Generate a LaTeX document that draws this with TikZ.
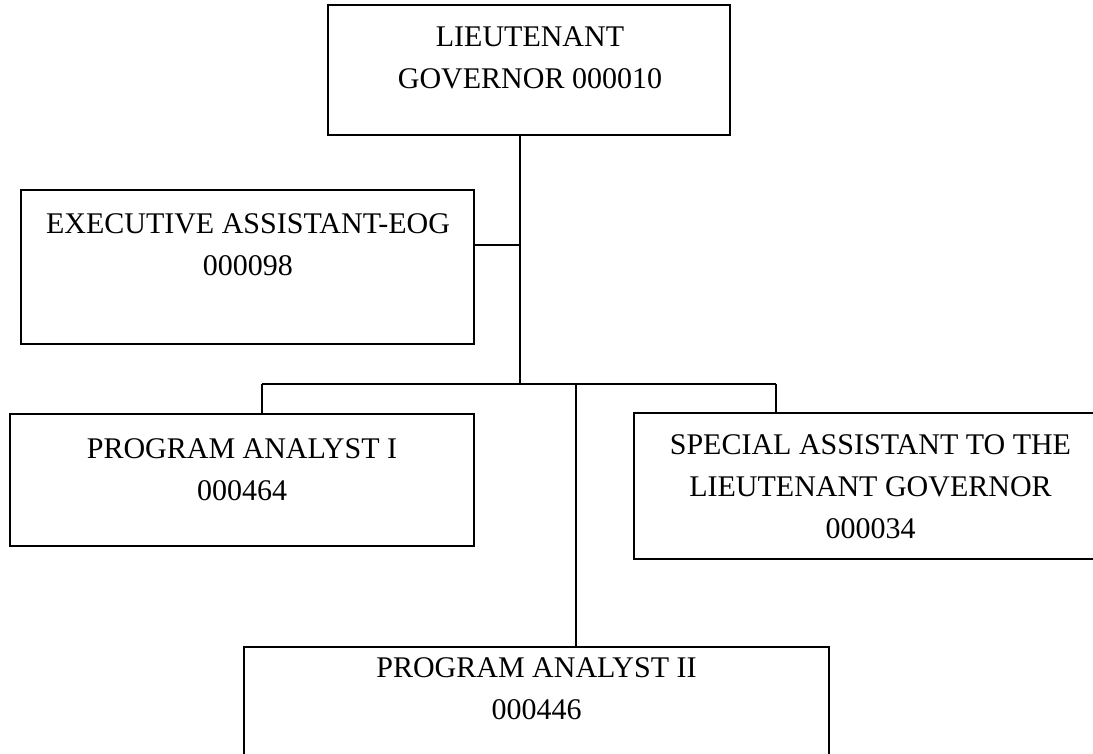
\documentclass[tikz,border=0pt]{standalone}
\usepackage{fontspec}
\setmainfont{Liberation Serif}
\tikzset{
  box/.style={draw, line width=1.8pt, rectangle, inner sep=0pt},
  caption/.style={anchor=north, align=center, inner sep=0pt,
    font=\fontsize{30}{42}\selectfont},
  link/.style={line width=1.8pt},
}
\begin{document}
\begin{tikzpicture}[x=1pt,y=-1pt]
\useasboundingbox (0,0) rectangle (1093,754);
\clip (0,0) rectangle (1093,754);

% position boxes
\node[box, minimum width=402pt, minimum height=130pt] (lg)  at (529,70) {};
\node[box, minimum width=453pt, minimum height=154pt] (ea)  at (247.5,267) {};
\node[box, minimum width=464pt, minimum height=132pt] (pa1) at (242,480) {};
\node[box, minimum width=473pt, minimum height=146pt] (sa)  at (870.5,486) {};
\node[box, minimum width=585pt, minimum height=133pt] (pa2) at (536.5,713.5) {};

% titles
\node[caption] (lgt)  at (530,26)    {LIEUTENANT\\GOVERNOR 000010};
\node[caption] (eat)  at (248,213)   {EXECUTIVE ASSISTANT-EOG\\000098};
\node[caption] (pa1t) at (242,438)   {PROGRAM ANALYST I\\000464};
\node[caption] (sat)  at (870.5,434) {SPECIAL ASSISTANT TO THE\\LIEUTENANT GOVERNOR\\000034};
\node[caption] (pa2t) at (536.5,657) {PROGRAM ANALYST II\\000446};

% reporting lines
\coordinate (trunk) at (520,384);
\coordinate (eaj)   at (520,245);
\coordinate (busL)  at (262,384);
\coordinate (busR)  at (776,384);
\coordinate (busM)  at (576,384);

\draw[link] (lg.south -| trunk) -- (trunk);
\draw[link] (eaj) -- (eaj -| ea.east);
\draw[link] (busL) -- (busR);
\draw[link] (busL) -- (busL |- pa1.north);
\draw[link] (busR) -- (busR |- sa.north);
\draw[link] (busM) -- (busM |- pa2.north);
\end{tikzpicture}
\end{document}
